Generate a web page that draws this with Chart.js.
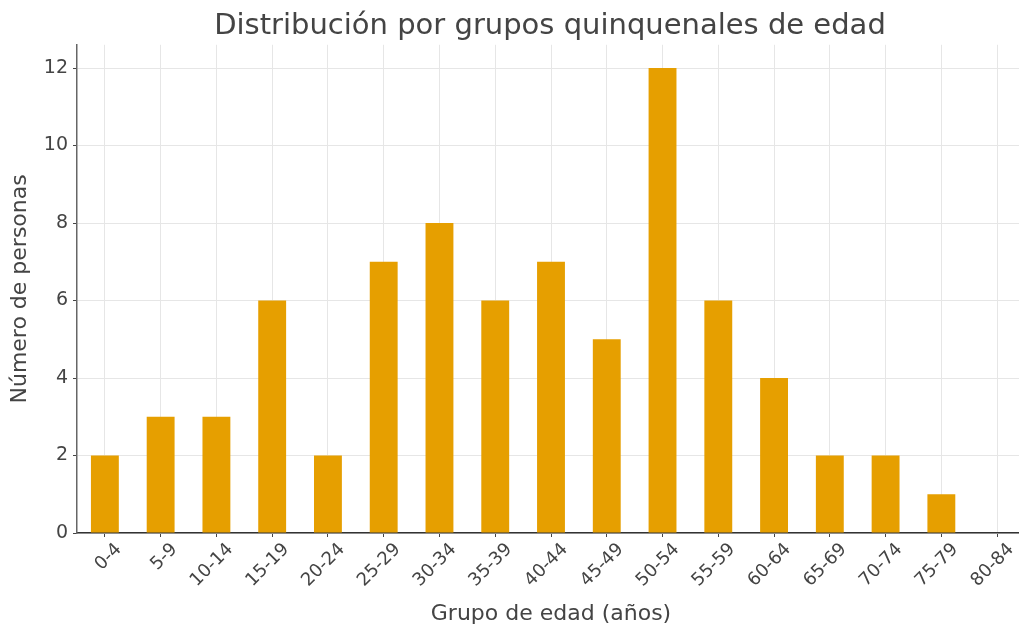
<!DOCTYPE html>
<html>
<head>
<meta charset="utf-8">
<script src="https://cdn.jsdelivr.net/npm/chart.js@4"></script>
<style>
html,body{margin:0;padding:0;background:#fff;overflow:hidden;width:1019px;height:629px;}
#c{position:absolute;left:0;top:0;}
</style>
</head>
<body>
<canvas id="c" width="1100" height="629"></canvas>
<script>
const categories = ["0-4","5-9","10-14","15-19","20-24","25-29","30-34","35-39","40-44","45-49","50-54","55-59","60-64","65-69","70-74","75-79","80-84"];
const personas = [2,3,3,6,2,7,8,6,7,5,12,6,4,2,2,1,0];
const yTicks = [0,2,4,6,8,10,12];

const font = "'DejaVu Sans', sans-serif";
new Chart(document.getElementById('c'), {
  type: 'bar',
  data: {
    labels: categories,
    datasets: [{
      data: personas,
      backgroundColor: '#E69F00',
      borderWidth: 0,
      barPercentage: 0.5,
      categoryPercentage: 1.0
    }]
  },
  options: {
    responsive: false,
    animation: false,
    devicePixelRatio: 1,
    layout: { padding: 0 },
    plugins: {
      legend: { display: false },
      tooltip: { enabled: false },
      title: {
        display: true,
        text: 'Distribución por grupos quinquenales de edad',
        color: '#444',
        font: { family: font, size: 29, weight: 'normal' },
        padding: { top: 9, bottom: 1 }
      }
    },
    scales: {
      x: {
        grid: { offset: false, color: '#e6e6e6', lineWidth: 1, tickColor: '#444', tickLength: 4 },
        border: { color: '#333', width: 1.5 },
        ticks: { color: '#444', font: { family: font, size: 18 }, maxRotation: 45, minRotation: 45, autoSkip: false, padding: 2, labelOffset: 14 },
        title: { display: true, text: 'Grupo de edad (años)', color: '#444', font: { family: font, size: 22 }, padding: { top: 0, bottom: 2 } },
        afterFit: s => { s.height = 96; }
      },
      y: {
        min: 0,
        max: 12.6,
        afterBuildTicks: s => { s.ticks = yTicks.map(v => ({ value: v })); },
        grid: { color: '#e6e6e6', lineWidth: 1, tickColor: '#444', tickLength: 4 },
        border: { color: '#666', width: 1.5 },
        ticks: { color: '#444', font: { family: font, size: 19 }, padding: 5 },
        title: { display: true, text: 'Número de personas', color: '#444', font: { family: font, size: 22 }, padding: { top: 7, bottom: 0 } },
        afterFit: s => { s.width = 77; }
      },
      spacer: {
        type: 'linear',
        position: 'right',
        display: true,
        min: 0,
        max: 1,
        grid: { display: false, drawTicks: false },
        border: { display: false },
        ticks: { display: false },
        afterFit: s => { s.width = 75; }
      }
    }
  }
});
</script>
</body>
</html>
